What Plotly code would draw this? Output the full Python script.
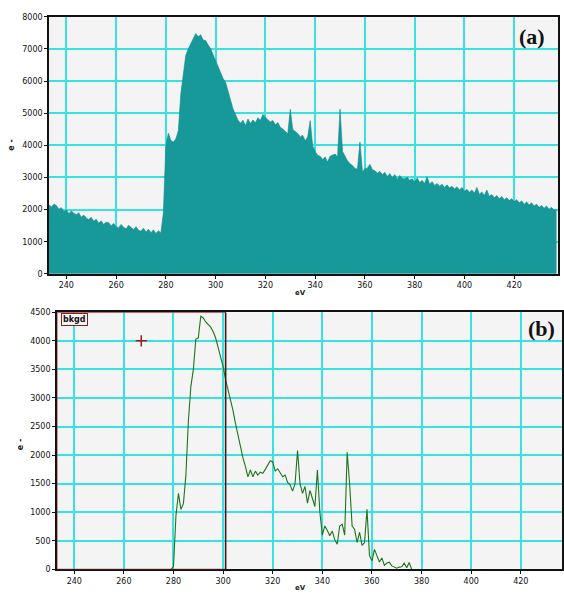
import plotly.graph_objects as go

W, H = 564, 598

# (a) full spectrum, 1 eV steps from 233 to 437 eV
ev_a = list(range(233, 438))
counts_a = [
    2150, 2080, 2170, 2130, 2010, 2060, 1940, 1990, 1870, 1960,
    1890, 1840, 1900, 1760, 1830, 1740, 1690, 1760, 1640, 1700,
    1580, 1650, 1540, 1610, 1590, 1500, 1570, 1470, 1430, 1540,
    1450, 1400, 1510, 1430, 1380, 1470, 1360, 1330, 1420, 1300,
    1390, 1280, 1370, 1260, 1340, 1270, 1900, 4000, 4380, 4150,
    4100, 4200, 4450, 5600, 6300, 6800, 7000, 7150, 7300, 7480,
    7380, 7440, 7280, 7260, 7120, 7010, 6820, 6620, 6430, 6270,
    6080, 5960, 5680, 5470, 5130, 4960, 4780, 4690, 4780, 4620,
    4820, 4680, 4790, 4700, 4860, 4780, 4960, 4870, 4790, 4730,
    4770, 4640, 4710, 4560, 4510, 4430, 4360, 5120, 4490, 4430,
    4370, 4260, 4310, 4140, 4260, 4770, 3980, 3810, 3690, 3660,
    3560, 3640, 3480, 3660, 3690, 3730, 3640, 5130, 3810, 3640,
    3520, 3430, 3370, 3280, 3260, 4100, 3180, 3270, 3290, 3410,
    3240, 3210, 3130, 3190, 3090, 3160, 3030, 3120, 2990, 3090,
    2940, 3060, 2970, 2960, 3010, 2910, 2960, 2870, 2980, 2840,
    2910, 2810, 3020, 2790, 2870, 2750, 2810, 2730, 2790, 2690,
    2770, 2670, 2730, 2640, 2710, 2610, 2690, 2570, 2630, 2540,
    2610, 2510, 2690, 2470, 2550, 2440, 2610, 2410, 2470, 2370,
    2440, 2340, 2410, 2310, 2370, 2280, 2340, 2250, 2310, 2210,
    2270, 2170, 2240, 2140, 2210, 2110, 2170, 2070, 2130, 2040,
    2110, 2010, 2070, 1980, 2000,
]

# (b) background-subtracted, 279 to 376 eV
ev_b = list(range(279, 377))
counts_b = [
    0, 50, 950, 1330, 1050, 1150, 1650, 2600, 3200, 3500,
    4030, 4050, 4430, 4400, 4330, 4280, 4240, 4160, 4050, 3880,
    3720, 3550, 3320, 3150, 2990, 2780, 2550, 2330, 2150, 1950,
    1800, 1620, 1740, 1620, 1720, 1650, 1700, 1680, 1750, 1820,
    1900, 1880, 1720, 1760, 1690, 1620, 1650, 1520, 1480, 1370,
    1500, 2080, 1500, 1330, 1450, 1160, 1380, 1250, 1100, 1740,
    1000, 600, 760, 680, 590, 670, 520, 440, 760, 790,
    600, 2050, 1500, 760, 700, 470, 650, 420, 470, 1050,
    240, 150, 350, 240, 130, 200, 70, 110, 125, 60,
    45, 20, 40, 45, 110, 30, 120, 0,
]

x_ticks = [240, 260, 280, 300, 320, 340, 360, 380, 400, 420]
y_ticks_a = [0, 1000, 2000, 3000, 4000, 5000, 6000, 7000, 8000]
y_ticks_b = [0, 500, 1000, 1500, 2000, 2500, 3000, 3500, 4000, 4500]

bkgd_window = [233, 301]
marker_pt = (267, 4000)


def px(x):
    return x / W


def py(y):
    return 1 - y / H


grid = "#38e2e2"
tick_font = dict(family="DejaVu Sans", size=8, color="#111")

fig = go.Figure()

fig.add_trace(go.Scatter(
    x=ev_a, y=counts_a, mode="lines", line=dict(color="#13898a", width=0.6),
    fill="tozeroy", fillcolor="#17999a", hoverinfo="skip", xaxis="x", yaxis="y"
))

fig.add_trace(go.Scatter(
    x=ev_b, y=counts_b, mode="lines", line=dict(color="#1f731c", width=1.1),
    hoverinfo="skip", xaxis="x2", yaxis="y2"
))

fig.add_trace(go.Scatter(
    x=[marker_pt[0]], y=[marker_pt[1]], mode="markers",
    marker=dict(symbol="cross-thin", size=8, line=dict(color="#a01818", width=1.5)),
    hoverinfo="skip", xaxis="x2", yaxis="y2"
))

axis_common = dict(
    showgrid=True, gridcolor=grid, gridwidth=2,
    showline=True, linecolor="#111", linewidth=1.5, mirror=True,
    ticks="outside", ticklen=3, tickcolor="#111", tickwidth=1,
    tickfont=tick_font, zeroline=False,
)

fig.update_layout(
    width=W, height=H,
    margin=dict(l=0, r=0, t=0, b=0),
    paper_bgcolor="white",
    plot_bgcolor="#f4f4f4",
    showlegend=False,
    xaxis=dict(domain=[px(49), px(559)], range=[233, 437.6], tickvals=x_ticks,
               anchor="y", **axis_common),
    yaxis=dict(domain=[py(274), py(13)], range=[0, 8000], tickvals=y_ticks_a,
               anchor="x", **axis_common),
    xaxis2=dict(domain=[px(57), px(563)], range=[233, 436.6], tickvals=x_ticks,
                anchor="y2", **axis_common),
    yaxis2=dict(domain=[py(574), py(313)], range=[0, 4500], tickvals=y_ticks_b,
                anchor="x2", **axis_common),
)

# background window on panel (b)
fig.add_shape(type="rect", xref="x2", yref="y2", x0=bkgd_window[0], x1=bkgd_window[1],
              y0=0, y1=4500, line=dict(color="#b03a3a", width=1.2), layer="above")
fig.add_shape(type="line", xref="x2", yref="y2", x0=bkgd_window[1], x1=bkgd_window[1],
              y0=0, y1=4500, line=dict(color="#3a1a1a", width=1.5), layer="above")

annots = [
    dict(x=px(61), y=py(320), text="<b>bkgd</b>", xanchor="left", yanchor="middle",
         font=dict(family="DejaVu Sans", size=8, color="#111"),
         bgcolor="#f6f6f6", bordercolor="#8a2020", borderwidth=1, borderpad=1),
    dict(x=px(548), y=py(33), text="<b>(a)</b>", xanchor="right", yanchor="middle",
         font=dict(family="Liberation Serif", size=22, color="#111")),
    dict(x=px(558), y=py(329), text="<b>(b)</b>", xanchor="right", yanchor="middle",
         font=dict(family="Liberation Serif", size=22, color="#111")),
    dict(x=px(301), y=py(293), text="<b>eV</b>", xanchor="center", yanchor="middle",
         font=dict(family="DejaVu Sans", size=7, color="#222")),
    dict(x=px(301), y=py(593), text="<b>eV</b>", xanchor="center", yanchor="middle",
         font=dict(family="DejaVu Sans", size=7, color="#222")),
    dict(x=px(12), y=py(143), text="<b>e -</b>", textangle=-90, xanchor="center", yanchor="middle",
         font=dict(family="DejaVu Sans", size=8, color="#222")),
    dict(x=px(20), y=py(447), text="<b>e -</b>", textangle=-90, xanchor="center", yanchor="middle",
         font=dict(family="DejaVu Sans", size=8, color="#222")),
]
for a in annots:
    fig.add_annotation(xref="paper", yref="paper", showarrow=False, **a)

fig.write_html("out.html", config={"displayModeBar": False},
               post_script="document.body.style.margin='0';")
